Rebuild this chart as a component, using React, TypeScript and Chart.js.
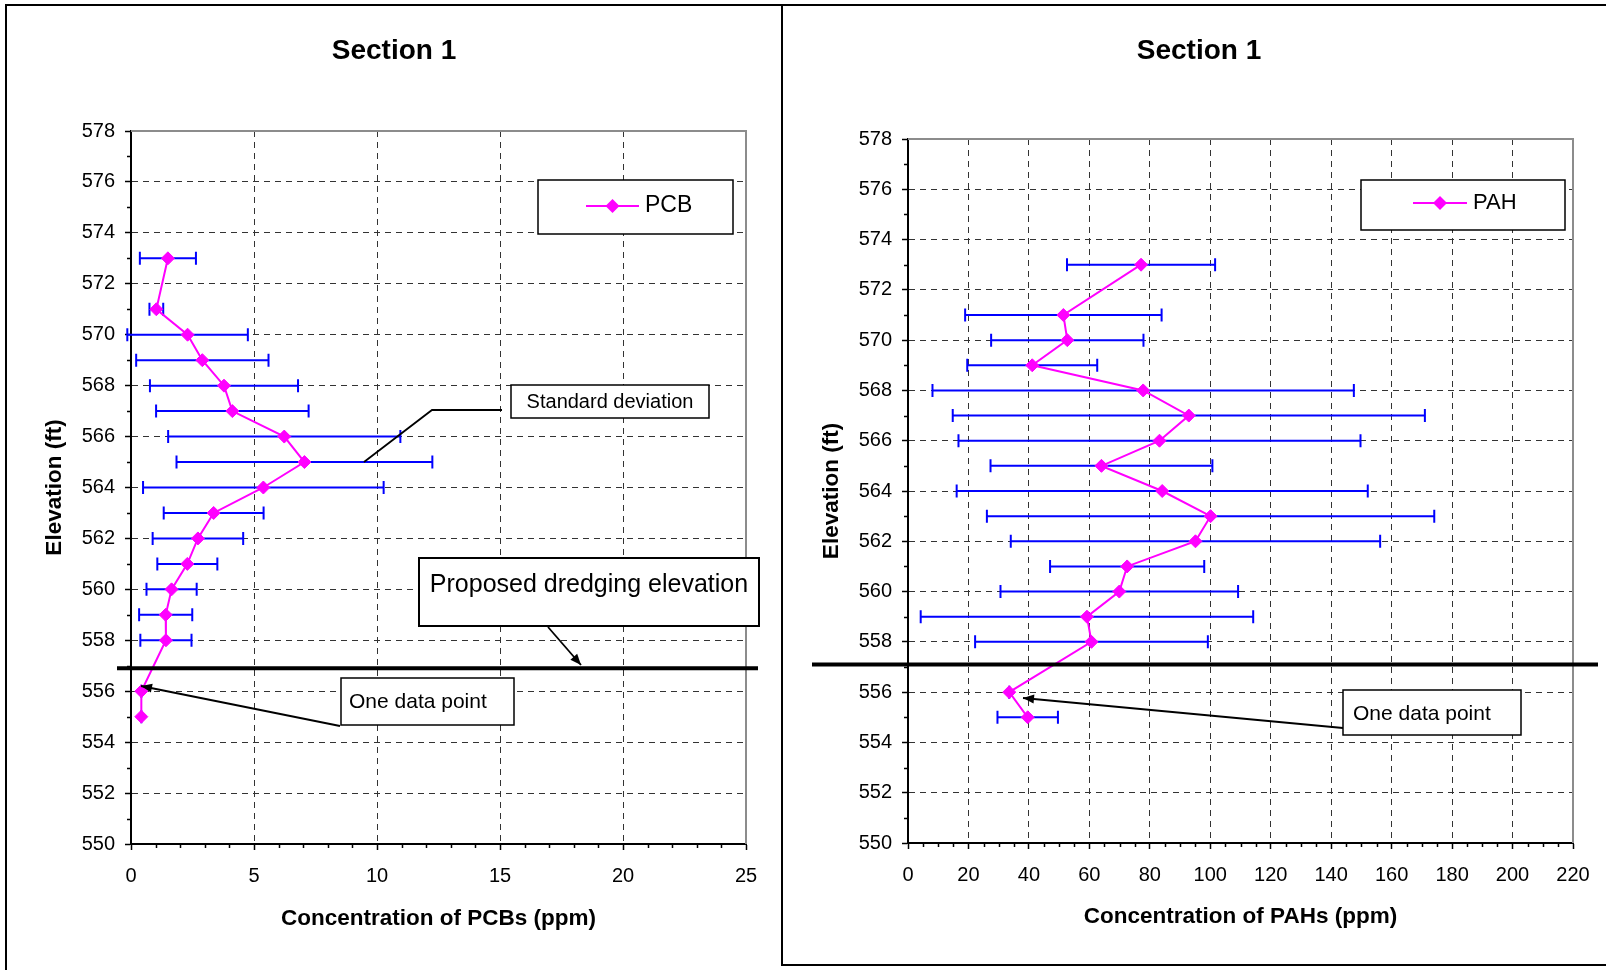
import React, { useEffect, useRef } from 'react';
import { Chart, registerables } from 'chart.js';

Chart.register(...registerables);

const FONT = '"Liberation Sans", Arial, Helvetica, sans-serif';
Chart.defaults.font.family = FONT;

// ---------- data ----------
const pcbElevation = [573, 571, 570, 569, 568, 567, 566, 565, 564, 563, 562, 561, 560, 559, 558, 556, 555];
const pcbMean = [1.5, 1.03, 2.3, 2.9, 3.78, 4.12, 6.23, 7.05, 5.38, 3.36, 2.72, 2.29, 1.65, 1.41, 1.42, 0.42, 0.42];
const pcbSd = [1.14, 0.28, 2.45, 2.69, 3.01, 3.1, 4.72, 5.2, 4.89, 2.03, 1.84, 1.22, 1.02, 1.08, 1.04, 0, 0];

const pahElevation = [573, 571, 570, 569, 568, 567, 566, 565, 564, 563, 562, 561, 560, 559, 558, 556, 555];
const pahMean = [77.1, 51.4, 52.7, 41.1, 77.8, 92.9, 83.2, 64.0, 84.1, 100.1, 95.1, 72.5, 69.9, 59.2, 60.7, 33.5, 39.6];
const pahSd = [24.5, 32.5, 25.2, 21.5, 69.7, 78.1, 66.5, 36.7, 68.0, 74.0, 61.1, 25.5, 39.3, 55.0, 38.5, 0, 10.0];

// axis ranges / ticks
const elevMin = 550;
const elevMax = 578;
const elevStep = 2;
const elevMinorStep = 1;

const pcbMin = 0;
const pcbMax = 25;
const pcbStep = 5;
const pcbMinorStep = 1;

const pahMin = 0;
const pahMax = 220;
const pahStep = 20;
const pahMinorStep = 5;

const dredgeElevationLeft = 556.9;
const dredgeElevationRight = 557.1;

// ---------- styles ----------
const MAGENTA = '#FF00FF';
const BLUE = '#0000FF';
const GRID = '#333333';

type Box = { x: number; y: number; w: number; h: number; text: string; size: number; tx: number; ty: number; align: CanvasTextAlign; lw: number };
type Arrow = { pts: number[][]; head: boolean };
type Cfg = {
  key: string;
  width: number;
  height: number;
  padLeft: number;
  padRight: number;
  padTop: number;
  xScaleHeight: number;
  yScaleWidth: number;
  yTitlePad: number;
  xTitlePad: number;
  xMin: number; xMax: number; xStep: number; xMinor: number;
  xTitle: string;
  label: string;
  elev: number[]; mean: number[]; sd: number[];
  title: { text: string; x: number; y: number };
  legend: { x: number; y: number; w: number; h: number; x1: number; x2: number; ly: number; tx: number; size: number };
  dredge: { value: number; x1: number; x2: number };
  boxes: Box[];
  arrows: Arrow[];
};

function diamond(ctx: CanvasRenderingContext2D, x: number, y: number, r: number) {
  ctx.beginPath();
  ctx.moveTo(x, y - r);
  ctx.lineTo(x + r, y);
  ctx.lineTo(x, y + r);
  ctx.lineTo(x - r, y);
  ctx.closePath();
  ctx.fill();
}

function makeDecor(cfg: Cfg) {
  return {
    id: 'decor_' + cfg.key,
    beforeDatasetsDraw(chart: any) {
      const { ctx, chartArea: a, scales } = chart;
      const xs = scales.x;
      const ys = scales.y;
      ctx.save();
      // gray frame top/right
      ctx.strokeStyle = '#8c8c8c';
      ctx.lineWidth = 2;
      ctx.beginPath();
      ctx.moveTo(a.left, a.top);
      ctx.lineTo(a.right, a.top);
      ctx.lineTo(a.right, a.bottom);
      ctx.stroke();
      // minor ticks
      ctx.strokeStyle = '#000';
      ctx.lineWidth = 1.5;
      ctx.beginPath();
      const ny = Math.round((elevMax - elevMin) / elevMinorStep);
      for (let i = 0; i <= ny; i++) {
        const v = elevMin + i * elevMinorStep;
        if (Math.abs((v - elevMin) % elevStep) > 1e-9) {
          const y = Math.round(ys.getPixelForValue(v)) + 0.5;
          ctx.moveTo(a.left - 4, y);
          ctx.lineTo(a.left, y);
        }
      }
      const nx = Math.round((cfg.xMax - cfg.xMin) / cfg.xMinor);
      for (let i = 0; i <= nx; i++) {
        const v = cfg.xMin + i * cfg.xMinor;
        if (Math.abs((v - cfg.xMin) % cfg.xStep) > 1e-9) {
          const x = Math.round(xs.getPixelForValue(v)) + 0.5;
          ctx.moveTo(x, a.bottom);
          ctx.lineTo(x, a.bottom + 4);
        }
      }
      ctx.stroke();
      // error bars
      ctx.strokeStyle = BLUE;
      ctx.lineWidth = 2;
      ctx.beginPath();
      cfg.elev.forEach((e, i) => {
        const y = ys.getPixelForValue(e);
        const x1 = xs.getPixelForValue(cfg.mean[i] - cfg.sd[i]);
        const x2 = xs.getPixelForValue(cfg.mean[i] + cfg.sd[i]);
        ctx.moveTo(x1, y);
        ctx.lineTo(x2, y);
        ctx.moveTo(x1, y - 6.5);
        ctx.lineTo(x1, y + 6.5);
        ctx.moveTo(x2, y - 6.5);
        ctx.lineTo(x2, y + 6.5);
      });
      ctx.stroke();
      ctx.restore();
    },
    afterDatasetsDraw(chart: any) {
      const { ctx, scales } = chart;
      const y = scales.y.getPixelForValue(cfg.dredge.value);
      ctx.save();
      ctx.strokeStyle = '#000';
      ctx.lineWidth = 4;
      ctx.beginPath();
      ctx.moveTo(cfg.dredge.x1, y);
      ctx.lineTo(cfg.dredge.x2, y);
      ctx.stroke();
      ctx.restore();
    },
    afterDraw(chart: any) {
      const { ctx } = chart;
      ctx.save();
      // title
      ctx.fillStyle = '#000';
      ctx.font = `bold 28px ${FONT}`;
      ctx.textAlign = 'center';
      ctx.textBaseline = 'middle';
      ctx.fillText(cfg.title.text, cfg.title.x, cfg.title.y);
      // legend
      const L = cfg.legend;
      ctx.fillStyle = '#fff';
      ctx.fillRect(L.x, L.y, L.w, L.h);
      ctx.strokeStyle = '#000';
      ctx.lineWidth = 1.5;
      ctx.strokeRect(L.x, L.y, L.w, L.h);
      ctx.strokeStyle = MAGENTA;
      ctx.lineWidth = 2;
      ctx.beginPath();
      ctx.moveTo(L.x1, L.ly);
      ctx.lineTo(L.x2, L.ly);
      ctx.stroke();
      ctx.fillStyle = MAGENTA;
      diamond(ctx, (L.x1 + L.x2) / 2, L.ly, 7);
      ctx.fillStyle = '#000';
      ctx.font = `${L.size}px ${FONT}`;
      ctx.textAlign = 'left';
      ctx.fillText(cfg.label, L.tx, L.ly);
      // arrows / leader lines
      cfg.arrows.forEach((ar) => {
        ctx.strokeStyle = '#000';
        ctx.fillStyle = '#000';
        ctx.lineWidth = 1.8;
        ctx.beginPath();
        ctx.moveTo(ar.pts[0][0], ar.pts[0][1]);
        for (let i = 1; i < ar.pts.length; i++) ctx.lineTo(ar.pts[i][0], ar.pts[i][1]);
        ctx.stroke();
        if (ar.head) {
          const n = ar.pts.length;
          const [ex, ey] = ar.pts[n - 1];
          const [sx, sy] = ar.pts[n - 2];
          const ang = Math.atan2(ey - sy, ex - sx);
          const len = 11;
          const hw = 4.5;
          ctx.beginPath();
          ctx.moveTo(ex, ey);
          ctx.lineTo(ex - len * Math.cos(ang) + hw * Math.sin(ang), ey - len * Math.sin(ang) - hw * Math.cos(ang));
          ctx.lineTo(ex - len * Math.cos(ang) - hw * Math.sin(ang), ey - len * Math.sin(ang) + hw * Math.cos(ang));
          ctx.closePath();
          ctx.fill();
        }
      });
      // text boxes
      cfg.boxes.forEach((b) => {
        ctx.fillStyle = '#fff';
        ctx.fillRect(b.x, b.y, b.w, b.h);
        ctx.strokeStyle = '#000';
        ctx.lineWidth = b.lw;
        ctx.strokeRect(b.x, b.y, b.w, b.h);
        ctx.fillStyle = '#000';
        ctx.font = `${b.size}px ${FONT}`;
        ctx.textAlign = b.align;
        ctx.textBaseline = 'middle';
        ctx.fillText(b.text, b.tx, b.ty);
      });
      ctx.restore();
    },
  };
}

function buildChart(canvas: HTMLCanvasElement, cfg: Cfg) {
  const transparentAt = (max: number) => (c: any) =>
    c.tick && Math.abs(c.tick.value - max) < 1e-9 ? 'rgba(0,0,0,0)' : GRID;
  return new Chart(canvas, {
    type: 'scatter',
    data: {
      datasets: [
        {
          label: cfg.label,
          data: cfg.elev.map((e, i) => ({ x: cfg.mean[i], y: e })),
          showLine: true,
          borderColor: MAGENTA,
          backgroundColor: MAGENTA,
          borderWidth: 2,
          pointStyle: 'rectRot',
          pointRadius: 6.5,
          pointBorderWidth: 1,
          pointBackgroundColor: MAGENTA,
          pointBorderColor: MAGENTA,
          clip: false as any,
        },
      ],
    },
    options: {
      animation: false,
      responsive: false,
      devicePixelRatio: 1,
      events: [],
      layout: { padding: { left: cfg.padLeft, right: cfg.padRight, top: cfg.padTop, bottom: 0 } },
      plugins: { legend: { display: false }, tooltip: { enabled: false }, title: { display: false } },
      scales: {
        x: {
          type: 'linear',
          position: 'bottom',
          min: cfg.xMin,
          max: cfg.xMax,
          ticks: {
            stepSize: cfg.xStep,
            autoSkip: false,
            maxRotation: 0,
            color: '#000',
            padding: 14,
            font: { size: 20, family: FONT },
          },
          grid: {
            color: transparentAt(cfg.xMax),
            lineWidth: 1,
            drawTicks: true,
            tickLength: 6,
            tickColor: '#000',
            tickWidth: 1.5,
          },
          border: { display: true, color: '#000', width: 2, dash: [6, 5] },
          title: {
            display: true,
            text: cfg.xTitle,
            color: '#000',
            font: { size: 22.5, weight: 'bold', family: FONT },
            padding: { top: 0, bottom: cfg.xTitlePad },
          },
          afterFit: (s: any) => {
            s.height = cfg.xScaleHeight;
          },
        } as any,
        y: {
          type: 'linear',
          position: 'left',
          min: elevMin,
          max: elevMax,
          ticks: {
            stepSize: elevStep,
            autoSkip: false,
            color: '#000',
            padding: 10,
            font: { size: 20, family: FONT },
          },
          grid: {
            color: transparentAt(elevMax),
            lineWidth: 1,
            drawTicks: true,
            tickLength: 6,
            tickColor: '#000',
            tickWidth: 1.5,
          },
          border: { display: true, color: '#000', width: 2, dash: [6, 5] },
          title: {
            display: true,
            text: 'Elevation (ft)',
            color: '#000',
            font: { size: 22.5, weight: 'bold', family: FONT },
            padding: { top: cfg.yTitlePad, bottom: 0 },
          },
          afterFit: (s: any) => {
            s.width = cfg.yScaleWidth;
          },
        } as any,
      },
    },
    plugins: [makeDecor(cfg)],
  });
}

const leftCfg: Cfg = {
  key: 'pcb',
  width: 782,
  height: 970,
  padLeft: 0,
  padRight: 36,
  padTop: 131,
  xScaleHeight: 126,
  yScaleWidth: 131,
  yTitlePad: 41.5,
  xTitlePad: 38,
  xMin: pcbMin, xMax: pcbMax, xStep: pcbStep, xMinor: pcbMinorStep,
  xTitle: 'Concentration of PCBs (ppm)',
  label: 'PCB',
  elev: pcbElevation, mean: pcbMean, sd: pcbSd,
  title: { text: 'Section 1', x: 394, y: 51 },
  legend: { x: 538, y: 180, w: 195, h: 54, x1: 586, x2: 639, ly: 206, tx: 645, size: 23 },
  dredge: { value: dredgeElevationLeft, x1: 117, x2: 758 },
  boxes: [
    { x: 511, y: 385, w: 198, h: 33, text: 'Standard deviation', size: 20, tx: 610, ty: 402, align: 'center', lw: 1.5 },
    { x: 419, y: 558, w: 340, h: 68, text: 'Proposed dredging elevation', size: 25, tx: 589, ty: 585, align: 'center', lw: 2 },
    { x: 341, y: 678, w: 173, h: 47, text: 'One data point', size: 21, tx: 349, ty: 702, align: 'left', lw: 1.5 },
  ],
  arrows: [
    { pts: [[364, 462], [432, 410], [502, 410]], head: false },
    { pts: [[548, 627], [581, 665]], head: true },
    { pts: [[340, 726], [141, 686]], head: true },
  ],
};

const rightCfg: Cfg = {
  key: 'pah',
  width: 824,
  height: 970,
  padLeft: 0,
  padRight: 33,
  padTop: 139,
  xScaleHeight: 127,
  yScaleWidth: 126,
  yTitlePad: 36,
  xTitlePad: 40,
  xMin: pahMin, xMax: pahMax, xStep: pahStep, xMinor: pahMinorStep,
  xTitle: 'Concentration of PAHs (ppm)',
  label: 'PAH',
  elev: pahElevation, mean: pahMean, sd: pahSd,
  title: { text: 'Section 1', x: 417, y: 51 },
  legend: { x: 579, y: 180, w: 204, h: 50, x1: 631, x2: 685, ly: 203, tx: 691, size: 22 },
  dredge: { value: dredgeElevationRight, x1: 30, x2: 816 },
  boxes: [
    { x: 561, y: 690, w: 178, h: 45, text: 'One data point', size: 21, tx: 571, ty: 714, align: 'left', lw: 1.5 },
  ],
  arrows: [{ pts: [[561, 728], [241, 698]], head: true }],
};

function Panel({ cfg, left }: { cfg: Cfg; left: number }) {
  const ref = useRef<HTMLCanvasElement | null>(null);
  useEffect(() => {
    if (!ref.current) return;
    const chart = buildChart(ref.current, cfg);
    return () => chart.destroy();
  }, [cfg]);
  return (
    <canvas
      ref={ref}
      width={cfg.width}
      height={cfg.height}
      style={{ position: 'absolute', left, top: 0, width: cfg.width, height: cfg.height }}
    />
  );
}

export default function App() {
  const line = (s: React.CSSProperties) => (
    <div style={{ position: 'absolute', background: '#000', pointerEvents: 'none', zIndex: 2, ...s }} />
  );
  return (
    <div style={{ position: 'absolute', left: 0, top: 0, width: 1606, height: 970, background: '#fff', overflow: 'hidden' }}>
      <Panel cfg={leftCfg} left={0} />
      <Panel cfg={rightCfg} left={782} />
      {line({ left: 5, top: 4, width: 1601, height: 2 })}
      {line({ left: 5, top: 4, width: 2, height: 966 })}
      {line({ left: 781, top: 4, width: 2, height: 962 })}
      {line({ left: 781, top: 964, width: 825, height: 2 })}
    </div>
  );
}
